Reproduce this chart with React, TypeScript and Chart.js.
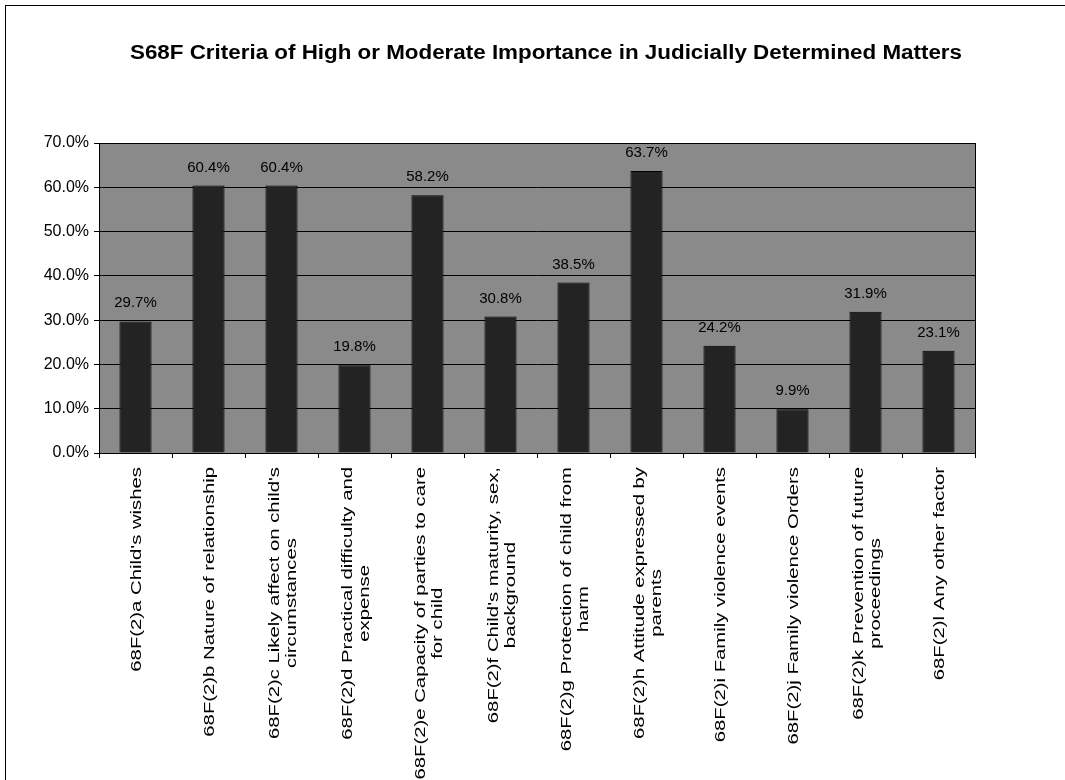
import React, { useEffect, useRef } from 'react';
import { Chart, registerables } from 'chart.js';

Chart.register(...registerables);

const chartTitle = 'S68F Criteria of High or Moderate Importance in Judicially Determined Matters';

const categories: string[][] = [
  ["68F(2)a Child's wishes"],
  ['68F(2)b Nature of relationship'],
  ["68F(2)c Likely affect on child's", 'circumstances'],
  ['68F(2)d Practical difficulty and', 'expense'],
  ['68F(2)e Capacity of parties to care', 'for child'],
  ["68F(2)f Child's maturity, sex,", 'background'],
  ['68F(2)g Protection of child from', 'harm'],
  ['68F(2)h Attitude expressed by', 'parents'],
  ['68F(2)i Family violence events'],
  ['68F(2)j Family violence Orders'],
  ['68F(2)k Prevention of future', 'proceedings'],
  ['68F(2)l Any other factor'],
];

const values: number[] = [29.7, 60.4, 60.4, 19.8, 58.2, 30.8, 38.5, 63.7, 24.2, 9.9, 31.9, 23.1];

const yMin = 0;
const yMax = 70;
const yStep = 10;

const FONT = '"Liberation Sans", Arial, sans-serif';

const plotDecor = {
  id: 'plotDecor',
  beforeDraw(chart: any) {
    const { ctx, chartArea } = chart;
    ctx.save();
    ctx.fillStyle = '#8a8a8a';
    ctx.fillRect(chartArea.left, chartArea.top, chartArea.right - chartArea.left, chartArea.bottom - chartArea.top);
    ctx.restore();
  },
  afterDraw(chart: any) {
    const { ctx, chartArea } = chart;
    ctx.save();
    ctx.strokeStyle = '#000';
    ctx.lineWidth = 1;
    ctx.strokeRect(Math.round(chartArea.left) + 0.5, Math.round(chartArea.top) + 0.5,
      Math.round(chartArea.right - chartArea.left), Math.round(chartArea.bottom - chartArea.top));

    // title (slightly widened like the reference)
    ctx.fillStyle = '#000';
    ctx.font = `bold 20px ${FONT}`;
    ctx.textAlign = 'center';
    ctx.textBaseline = 'middle';
    const tw = ctx.measureText(chartTitle).width;
    const tsx = 832 / tw;
    ctx.save();
    ctx.translate(546, 53);
    ctx.scale(tsx, 1);
    ctx.fillText(chartTitle, 0, 0);
    ctx.restore();

    // value labels
    const meta = chart.getDatasetMeta(0);
    ctx.font = `15px ${FONT}`;
    ctx.textAlign = 'center';
    ctx.textBaseline = 'alphabetic';
    meta.data.forEach((bar: any, i: number) => {
      ctx.fillText(values[i].toFixed(1) + '%', bar.x, bar.y - 14);
    });

    // category labels (rotated, stretched along text direction)
    const xs = chart.scales.x;
    const sx = 1.45;
    const lh = 17;
    ctx.font = `14px ${FONT}`;
    ctx.textBaseline = 'middle';
    ctx.textAlign = 'center';
    categories.forEach((lines, i) => {
      const x = xs.getPixelForValue(i) + 2;
      const yTop = xs.top + 14;
      const maxW = Math.max(...lines.map((l) => ctx.measureText(l).width));
      ctx.save();
      ctx.translate(x, yTop);
      ctx.rotate(-Math.PI / 2);
      ctx.scale(sx, 1);
      lines.forEach((l, j) => {
        const off = (j - (lines.length - 1) / 2) * lh;
        ctx.fillText(l, -maxW / 2, off);
      });
      ctx.restore();
    });
    ctx.restore();
  },
};

export default function App() {
  const ref = useRef<HTMLCanvasElement | null>(null);

  useEffect(() => {
    if (!ref.current) return;
    const chart = new Chart(ref.current, {
      type: 'bar',
      data: {
        labels: categories.map((c) => c.join(' ')),
        datasets: [
          {
            data: values,
            backgroundColor: '#232323',
            borderColor: '#000',
            borderWidth: 1,
            barPercentage: 0.44,
            categoryPercentage: 1,
          },
        ],
      },
      options: {
        responsive: false,
        animation: false,
        layout: { padding: { left: 0, right: 90, top: 143, bottom: 0 } },
        plugins: {
          legend: { display: false },
          tooltip: { enabled: false },
          title: { display: false },
        },
        scales: {
          x: {
            offset: true,
            border: { display: true, color: '#000', width: 1 },
            grid: { display: true, drawOnChartArea: false, drawTicks: true, tickLength: 5, color: '#000', offset: true },
            ticks: { display: false },
            afterFit(scale: any) {
              scale.height = 327;
            },
          },
          y: {
            min: yMin,
            max: yMax,
            border: { display: true, color: '#000', width: 1 },
            grid: { display: true, drawOnChartArea: true, drawTicks: true, tickLength: 5, color: '#000' },
            ticks: {
              stepSize: yStep,
              color: '#000',
              padding: 5,
              font: { family: FONT, size: 16 },
              callback: (v: any) => Number(v).toFixed(1) + '%',
            },
            afterFit(scale: any) {
              scale.width = 99;
            },
          },
        },
      },
      plugins: [plotDecor],
    });
    return () => chart.destroy();
  }, []);

  return (
    <div style={{ position: 'absolute', left: 0, top: 0, width: 1065, height: 780, background: '#fff', overflow: 'hidden' }}>
      <div style={{ position: 'absolute', left: 5, top: 5, width: 1100, height: 800, borderTop: '1px solid #000', borderLeft: '1px solid #000' }} />
      <canvas ref={ref} width={1065} height={780} style={{ position: 'absolute', left: 0, top: 0 }} />
    </div>
  );
}
